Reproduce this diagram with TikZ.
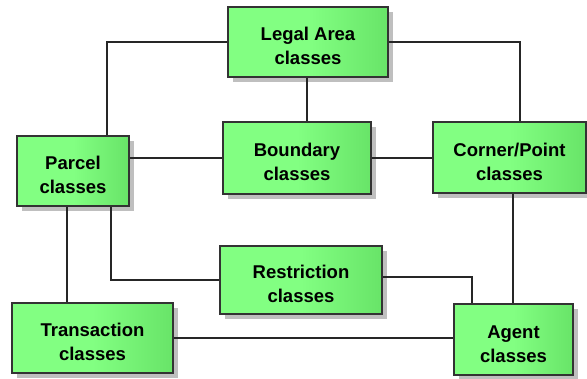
\documentclass[tikz,border=0pt]{standalone}
\usepackage{fontspec}
\setmainfont{Liberation Sans}
\usepackage{tikz}
\usetikzlibrary{calc,shadows,positioning}
\definecolor{boxlight}{RGB}{130,255,130}
\definecolor{boxdark}{RGB}{104,228,104}
\tikzset{class box/.style={draw=black!80,line width=1.4pt,align=center,
    left color=boxlight,right color=boxdark,middle color=boxlight,
    font=\fontsize{18.5}{24}\selectfont\bfseries,inner sep=0pt,
    drop shadow={shadow xshift=5pt,shadow yshift=-5pt,fill=black!25,opacity=1}},
  link/.style={draw=black!85,line width=1.2pt}}
\newcommand{\cls}[1]{\rule{0pt}{22pt}#1\\classes}

\begin{document}
\begin{tikzpicture}[x=1pt,y=-1pt]
	\useasboundingbox (0,0) rectangle (587,378);

	\node[class box, minimum width=160, minimum height=70] (legal) at (308,42) {\cls{Legal Area}};
	\node[class box, minimum width=112, minimum height=70] (parcel) at (73,171) {\cls{Parcel}};
	\node[class box, minimum width=148, minimum height=72] (boundary) at (297,158) {\cls{Boundary}};
	\node[class box, minimum width=153, minimum height=71] (corner) at (509.5,157.5) {\cls{Corner/Point}};
	\node[class box, minimum width=162, minimum height=68] (restriction) at (301,280) {\cls{Restriction}};
	\node[class box, minimum width=161, minimum height=70] (transaction) at (92.5,338) {\cls{Transaction}};
	\node[class box, minimum width=119, minimum height=71] (agent) at (513.5,339.5) {\cls{Agent}};

	% links between the class groups
	\path[link]
	(legal.west) -| ([xshift=34]parcel.north)
	(legal.east) -| ([xshift=10.5]corner.north)
	([xshift=-1]legal.south) -- ([xshift=-1]legal.south |- boundary.north)
	([yshift=13]parcel.east) -- ([yshift=13]parcel.east -| boundary.west)
	(boundary.east) -- (boundary.east -| corner.west)
	([xshift=3.5]corner.south) -- ([xshift=3.5]corner.south |- agent.north)
	([xshift=-6]parcel.south) -- ([xshift=-6]parcel.south |- transaction.north)
	([xshift=38]parcel.south) |- (restriction.west)
	([yshift=3]restriction.east) -| ([xshift=-41.5]agent.north)
	(transaction.east) -- (transaction.east -| agent.west)
	;
\end{tikzpicture}
\end{document}
